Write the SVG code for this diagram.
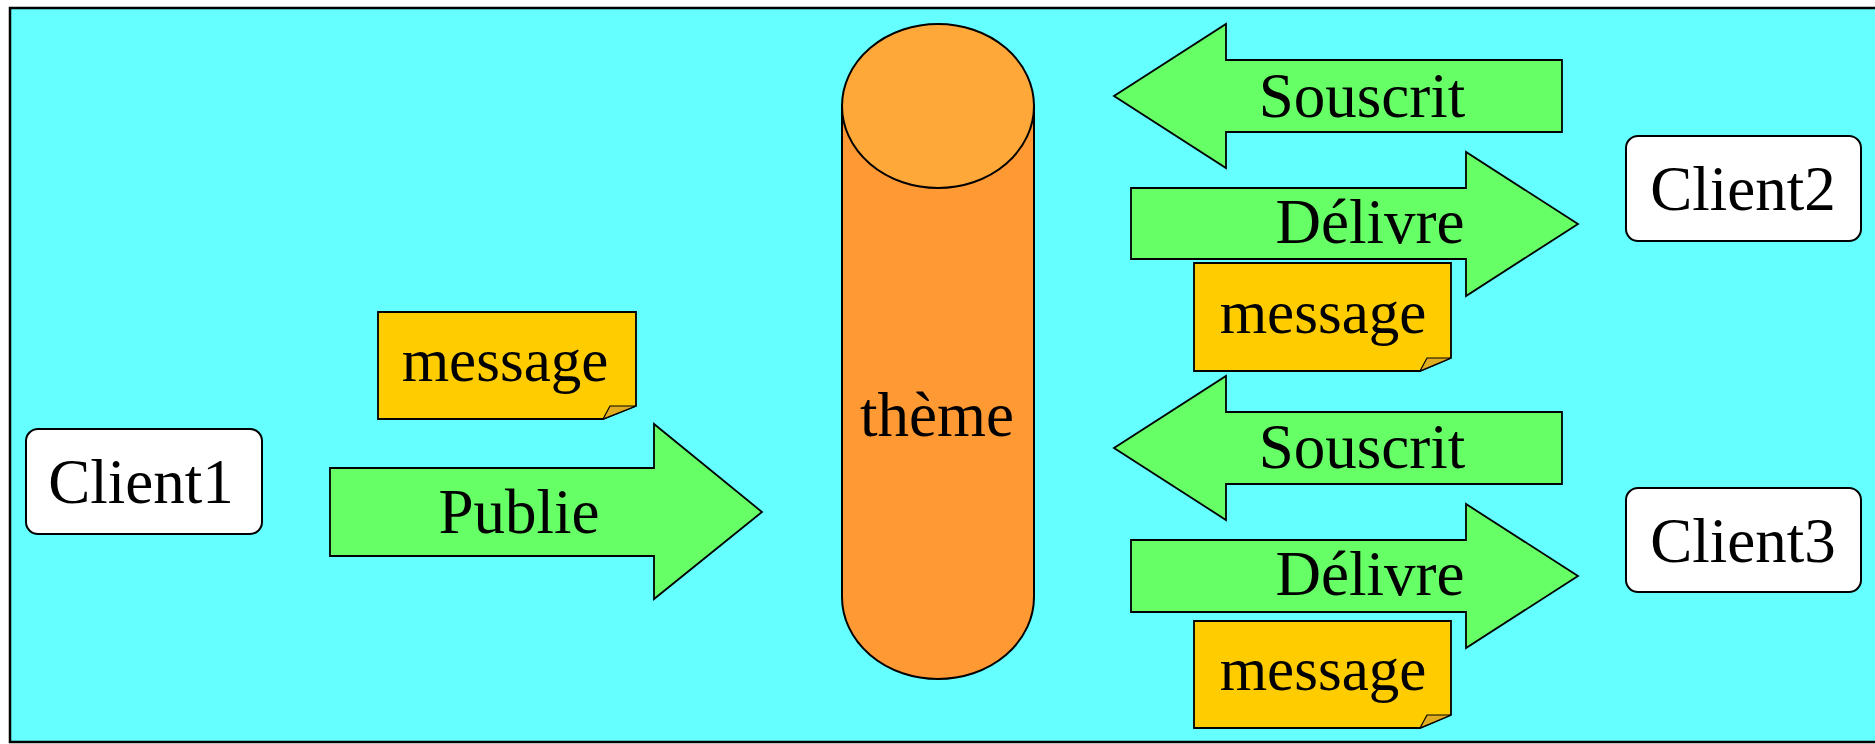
<svg xmlns="http://www.w3.org/2000/svg" width="1875" height="744" viewBox="0 0 1875 744">
<style>
.bg{fill:#66ffff;stroke:#000;stroke-width:2.5}
.client{fill:#fff;stroke:#000;stroke-width:2}
.arrow{fill:#66ff66;stroke:#000;stroke-width:1.8;stroke-linejoin:miter}
.msg{fill:#ffcc00;stroke:#000;stroke-width:1.8}
.fold{fill:#e0ac20;stroke:#000;stroke-width:1.2}
text{font-family:'Liberation Serif','Times New Roman','DejaVu Serif',serif;fill:#000;text-anchor:middle}
.lbl{font-size:63px}
.mtxt{font-size:61px}
</style>
<rect class="bg" x="10" y="8" width="1870" height="734"/>

<g id="theme">
<path d="M842 106 L842 597 A96 82 0 0 0 1034 597 L1034 106 Z" fill="#ff9933" stroke="#000" stroke-width="2"/>
<ellipse cx="938" cy="106" rx="96" ry="82" fill="#ffa83a" stroke="#000" stroke-width="2"/>
<text class="lbl" x="937" y="436" font-family="Liberation Serif, serif">thème</text>
</g>

<g id="client1">
<rect class="client" x="26" y="429" width="236" height="105" rx="12"/>
<text class="lbl" x="141" y="503" font-family="Liberation Serif, serif">Client1</text>
</g>
<g id="client2">
<rect class="client" x="1626" y="136" width="235" height="105" rx="12"/>
<text class="lbl" x="1743" y="210" font-family="Liberation Serif, serif">Client2</text>
</g>
<g id="client3">
<rect class="client" x="1626" y="488" width="235" height="104" rx="12"/>
<text class="lbl" x="1743" y="562" font-family="Liberation Serif, serif">Client3</text>
</g>

<g id="connectors">
<g id="publie">
<path class="arrow" d="M330 468 L654 468 L654 424 L762 512 L654 599 L654 556 L330 556 Z"/>
<text class="lbl" x="519" y="533" font-family="Liberation Serif, serif">Publie</text>
</g>
<g id="souscrit1">
<path class="arrow" d="M1562 60 L1226 60 L1226 24 L1114 96 L1226 168 L1226 132 L1562 132 Z"/>
<text class="lbl" x="1362" y="117" font-family="Liberation Serif, serif">Souscrit</text>
</g>
<g id="delivre1">
<path class="arrow" d="M1131 188 L1466 188 L1466 152 L1578 224 L1466 296 L1466 259 L1131 259 Z"/>
<text class="lbl" x="1370" y="243" font-family="Liberation Serif, serif">Délivre</text>
</g>
<g id="souscrit2">
<path class="arrow" d="M1562 412 L1226 412 L1226 376 L1114 448 L1226 520 L1226 484 L1562 484 Z"/>
<text class="lbl" x="1362" y="468" font-family="Liberation Serif, serif">Souscrit</text>
</g>
<g id="delivre2">
<path class="arrow" d="M1131 540 L1466 540 L1466 504 L1578 576 L1466 648 L1466 612 L1131 612 Z"/>
<text class="lbl" x="1370" y="595" font-family="Liberation Serif, serif">Délivre</text>
</g>
</g>

<g id="message1">
<path class="msg" d="M378 312 L636 312 L636 406 L603 419 L378 419 Z"/>
<path class="fold" d="M603 419 L610 406 L636 406 Z"/>
<text class="mtxt" x="505" y="381" font-family="Liberation Serif, serif">message</text>
</g>
<g id="message2">
<path class="msg" d="M1194 263 L1451 263 L1451 358 L1420 371 L1194 371 Z"/>
<path class="fold" d="M1420 371 L1427 358 L1451 358 Z"/>
<text class="mtxt" x="1323" y="333" font-family="Liberation Serif, serif">message</text>
</g>
<g id="message3">
<path class="msg" d="M1194 621 L1451 621 L1451 715 L1420 728 L1194 728 Z"/>
<path class="fold" d="M1420 728 L1427 715 L1451 715 Z"/>
<text class="mtxt" x="1323" y="690" font-family="Liberation Serif, serif">message</text>
</g>
</svg>
